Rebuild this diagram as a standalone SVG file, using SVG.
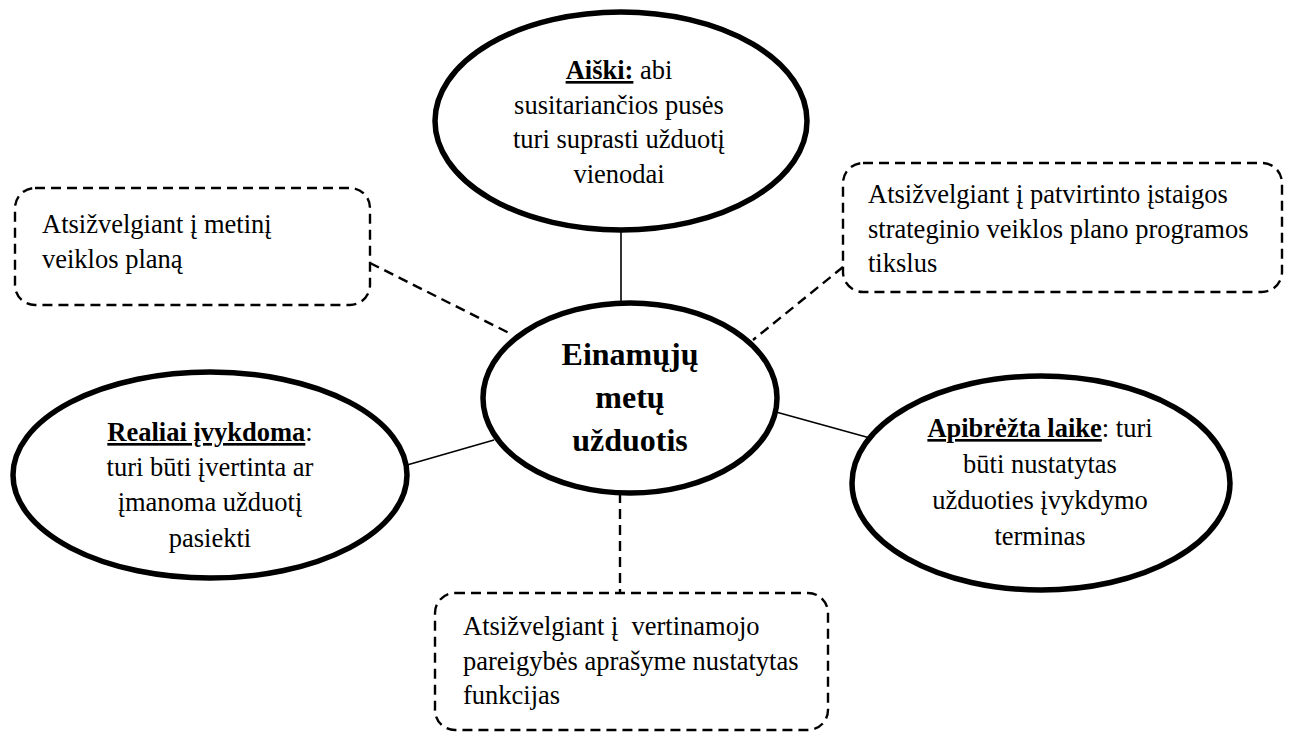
<svg xmlns="http://www.w3.org/2000/svg" width="1289" height="735" viewBox="0 0 1289 735" font-family="Liberation Serif, DejaVu Serif, serif">
  <style>
    .oval { fill: #fff; stroke: #000; stroke-width: 5.5; }
    .box { fill: #fff; stroke: #000; stroke-width: 2.4; stroke-dasharray: 10 6; }
    .solid { stroke: #000; stroke-width: 1.6; fill: none; }
    .dash { stroke: #000; stroke-width: 2.4; stroke-dasharray: 10 6; fill: none; }
    text { font-family: 'Liberation Serif', 'DejaVu Serif', serif; font-size: 26.5px; fill: #000; }
    .c { text-anchor: middle; }
    .u { font-weight: bold; text-decoration: underline; }
    .big { font-size: 32px; font-weight: bold; }
  </style>

  <!-- connectors -->
  <g id="connectors">
    <line class="solid" x1="621" y1="230" x2="621" y2="304"/>
    <line class="solid" x1="407" y1="465" x2="494" y2="440"/>
    <line class="solid" x1="776" y1="412" x2="870" y2="438"/>
    <line class="dash" x1="370" y1="263" x2="509" y2="333"/>
    <line class="dash" x1="843" y1="267" x2="753" y2="340"/>
    <line class="dash" x1="620" y1="493" x2="620" y2="593"/>
  </g>

  <!-- top: Aiški -->
  <g id="node-aiski">
    <ellipse class="oval" cx="621" cy="121" rx="186" ry="109"/>
    <text class="c" x="619" y="79"><tspan class="u">Aiški:</tspan> abi</text>
    <text class="c" x="619" y="113.5">susitariančios pusės</text>
    <text class="c" x="619" y="148">turi suprasti užduotį</text>
    <text class="c" x="619" y="183">vienodai</text>
  </g>

  <!-- centre -->
  <g id="node-center">
    <ellipse class="oval" cx="630" cy="398" rx="147" ry="95"/>
    <text class="c big" x="630" y="365">Einamųjų</text>
    <text class="c big" x="630" y="408">metų</text>
    <text class="c big" x="630" y="451">užduotis</text>
  </g>

  <!-- left: Realiai įvykdoma -->
  <g id="node-realiai">
    <ellipse class="oval" cx="210" cy="475" rx="197" ry="103"/>
    <text class="c" x="210" y="441"><tspan class="u">Realiai įvykdoma</tspan>:</text>
    <text class="c" x="210" y="476">turi būti įvertinta ar</text>
    <text class="c" x="210" y="511">įmanoma užduotį</text>
    <text class="c" x="210" y="547">pasiekti</text>
  </g>

  <!-- right: Apibrėžta laike -->
  <g id="node-apibrezta">
    <ellipse class="oval" cx="1041" cy="483" rx="189" ry="107"/>
    <text class="c" x="1040" y="437"><tspan class="u">Apibrėžta laike</tspan>: turi</text>
    <text class="c" x="1040" y="473">būti nustatytas</text>
    <text class="c" x="1040" y="509">užduoties įvykdymo</text>
    <text class="c" x="1040" y="545">terminas</text>
  </g>

  <!-- dashed boxes -->
  <g id="note-metinis">
    <rect class="box" x="15" y="188" width="355" height="117" rx="20" ry="20"/>
    <text x="42" y="233">Atsižvelgiant į metinį</text>
    <text x="42" y="268">veiklos planą</text>
  </g>

  <g id="note-strateginis">
    <rect class="box" x="843" y="163" width="439" height="129" rx="20" ry="20"/>
    <text x="868" y="203">Atsižvelgiant į patvirtinto įstaigos</text>
    <text x="868" y="238">strateginio veiklos plano programos</text>
    <text x="868" y="272">tikslus</text>
  </g>

  <g id="note-pareigybe">
    <rect class="box" x="435" y="593" width="393" height="137" rx="20" ry="20"/>
    <text x="463" y="635">Atsižvelgiant į&#160; vertinamojo</text>
    <text x="463" y="670">pareigybės aprašyme nustatytas</text>
    <text x="463" y="704">funkcijas</text>
  </g>
</svg>
